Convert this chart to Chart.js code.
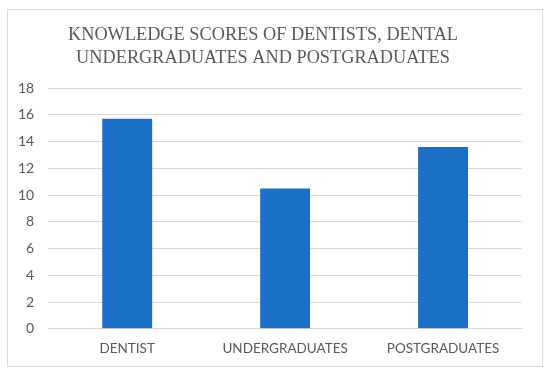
<!DOCTYPE html>
<html>
<head>
<meta charset="utf-8">
<script src="https://cdn.jsdelivr.net/npm/chart.js@4"></script>
<style>
  html, body { margin: 0; padding: 0; background: #fff; }
  #wrap { width: 550px; height: 373px; }
</style>
</head>
<body>
<div id="wrap"><canvas id="myChart" width="550" height="373"></canvas></div>
<script>
const categories = ["DENTIST", "UNDERGRADUATES", "POSTGRADUATES"];
const scores = [15.7, 10.5, 13.6];
const titleLines = ["KNOWLEDGE SCORES OF DENTISTS, DENTAL", "UNDERGRADUATES AND POSTGRADUATES"];

// outer frame around the whole chart
const framePlugin = {
  id: "frame",
  beforeDraw(chart) {
    const ctx = chart.ctx;
    ctx.save();
    ctx.fillStyle = "#fff";
    ctx.fillRect(0, 0, chart.width, chart.height);
    ctx.strokeStyle = "#d9d9d9";
    ctx.lineWidth = 1;
    ctx.strokeRect(7.5, 9.5, 535, 357);
    ctx.restore();
  },
};

const ctx = document.getElementById("myChart");
new Chart(ctx, {
  type: "bar",
  data: {
    labels: categories,
    datasets: [
      {
        data: scores,
        backgroundColor: "#1c6fc6",
        categoryPercentage: 1,
        barPercentage: 0.316,
      },
    ],
  },
  options: {
    responsive: false,
    animation: false,
    layout: {
      padding: { left: 4, right: 28, top: 24, bottom: 4 },
    },
    plugins: {
      legend: { display: false },
      tooltip: { enabled: false },
      title: {
        display: true,
        text: titleLines,
        color: "#595959",
        font: { family: "'Liberation Serif', 'Times New Roman', serif", size: 18.3, weight: "normal", lineHeight: 1.26 },
        padding: { top: 0, bottom: 18 },
      },
    },
    scales: {
      x: {
        grid: { display: false, drawTicks: false },
        border: { color: "#d9d9d9" },
        ticks: {
          color: "#595959",
          padding: 12,
          font: { family: "Lato, 'Liberation Sans', sans-serif", size: 13.5 },
        },
      },
      y: {
        min: 0,
        max: 18,
        ticks: {
          stepSize: 2,
          color: "#595959",
          padding: 14,
          font: { family: "Lato, 'Liberation Sans', sans-serif", size: 14 },
        },
        grid: { color: "#d9d9d9", drawTicks: false },
        border: { display: false },
      },
    },
  },
  plugins: [framePlugin],
});
</script>
</body>
</html>
